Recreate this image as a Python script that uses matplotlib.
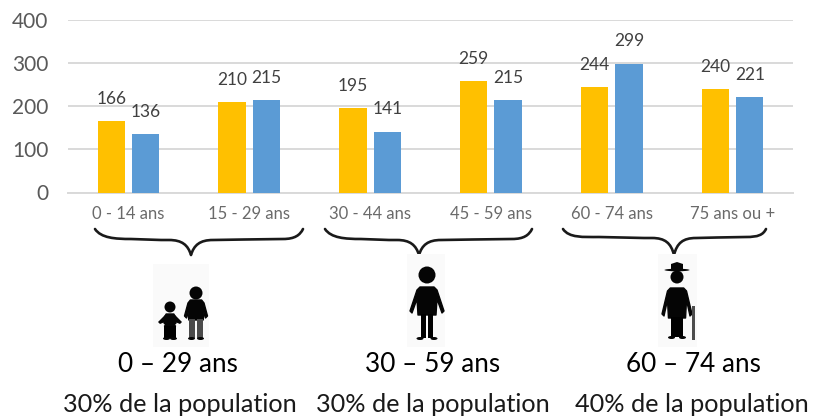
import matplotlib
matplotlib.use("Agg")
import matplotlib.pyplot as plt
from matplotlib.patches import Rectangle, Circle, Ellipse, Polygon, PathPatch
from matplotlib.path import Path

plt.rcParams["font.family"] = ["Lato", "DejaVu Sans"]

age_groups = ["0 - 14 ans", "15 - 29 ans", "30 - 44 ans", "45 - 59 ans", "60 - 74 ans", "75 ans ou +"]
series_yellow = [166, 210, 195, 259, 244, 240]
series_blue = [136, 215, 141, 215, 299, 221]
y_ticks = [0, 100, 200, 300, 400]
band_titles = ["0 – 29 ans", "30 – 59 ans", "60 – 74 ans"]
band_shares = ["30% de la population", "30% de la population", "40% de la population"]

W, H = 815, 416
fig = plt.figure(figsize=(W / 100, H / 100), dpi=100)

# Bar chart, placed in pixel terms
left, right, top, bottom = 68, 793, 20, 192.5
ax = fig.add_axes([left / W, 1 - bottom / H, (right - left) / W, (bottom - top) / H])
ax.set_xlim(-0.5, 5.5)
ax.set_ylim(0, 400)
bw = 0.226
off = 0.142
for i, (a, b) in enumerate(zip(series_yellow, series_blue)):
    ax.bar(i - off, a, bw, color="#FFC000", zorder=3)
    ax.bar(i + off, b, bw, color="#5B9BD5", zorder=3)
    for x, v in ((i - off, a), (i + off, b)):
        ax.annotate(str(v), (x, v), xytext=(0, 16), textcoords="offset points",
                    ha="center", va="center", fontsize=12.5, color="#404040", zorder=4)
ax.set_yticks(y_ticks)
ax.set_xticks(range(6))
ax.set_xticklabels(age_groups, fontsize=12, color="#6a6a6a")
ax.tick_params(axis="x", length=0, pad=10)
ax.tick_params(axis="y", length=0, pad=14, labelsize=15, labelcolor="#595959")
ax.grid(axis="y", color="#D9D9D9", lw=1.4, zorder=0)
for s in ("top", "left", "right"):
    ax.spines[s].set_visible(False)
ax.spines["bottom"].set_color("#D9D9D9")
ax.spines["bottom"].set_linewidth(1.4)

# Overlay with pixel coordinates for braces, figures and captions
ov = fig.add_axes([0, 0, 1, 1])
ov.set_xlim(0, W)
ov.set_ylim(H, 0)
ov.axis("off")


def brace(x0, x1, xm, y0=229, ymid=240, ytip=255):
    verts = [(x0, y0), (x0 + 6, y0 + 9), (x0 + 20, ymid - 1), (x0 + 36, ymid - 1),
             (xm - 30, ymid), (xm - 30, ymid), (xm - 22, ymid),
             (xm - 9, ymid), (xm - 3, ymid + 5), (xm, ytip),
             (xm + 3, ymid + 5), (xm + 9, ymid), (xm + 22, ymid),
             (xm + 30, ymid), (x1 - 36, ymid - 1), (x1 - 20, ymid - 1),
             (x1 - 8, ymid - 1), (x1 - 3, y0 + 6), (x1, y0)]
    codes = [Path.MOVETO] + [Path.CURVE4] * 18
    ov.add_patch(PathPatch(Path(verts, codes), fill=False, ec="#1a1a1a", lw=1.9,
                           capstyle="round", joinstyle="round"))


brace(95, 303, 191)
brace(325, 532, 419)
brace(563, 766, 674, ymid=238)


def person(cx, head_y, head_r, sh_y, hip_y, foot_y, torso, arm, leg, foot, leg_color="black"):
    # Silhouette made of a head, a rounded torso with arms, two legs and two feet
    color = "#050505"
    ov.add_patch(Circle((cx, head_y), head_r, color=color, lw=0))
    ov.add_patch(Polygon([(cx - torso * 0.7, sh_y), (cx + torso * 0.7, sh_y),
                          (cx + torso, sh_y + 3), (cx + arm, hip_y - 4), (cx + arm - 2, hip_y - 2),
                          (cx + torso, sh_y + 12), (cx + torso * 0.9, hip_y),
                          (cx - torso * 0.9, hip_y), (cx - torso, sh_y + 12),
                          (cx - arm + 2, hip_y - 2), (cx - arm, hip_y - 4), (cx - torso, sh_y + 3)],
                         closed=True, fc=color, ec=color, lw=1, joinstyle="round"))
    w = leg * 0.44
    for sgn in (-1, 1):
        xc = cx + sgn * leg * 0.52
        ov.add_patch(Rectangle((xc - w, hip_y - 1), w * 2, foot_y - hip_y, color=leg_color, lw=0))
        ov.add_patch(Ellipse((cx + sgn * (foot - 3.5), foot_y - 0.5), 7, 3, color=color, lw=0))


# Young pair
ov.add_patch(Rectangle((153, 264), 56, 83, color="#FAFAFA", lw=0))
person(196, 293, 6.5, 300, 320, 339, 8, 11.5, 7, 8, leg_color="#4a4a4a")
person(170, 307, 5.5, 314, 327, 339, 5.5, 6, 6, 7)
ov.add_patch(Polygon([(165, 315), (175, 315), (182, 322), (180, 324), (170, 320), (160, 324), (158, 322)],
                     closed=True, color="#050505", lw=0))

# Adult
ov.add_patch(Rectangle((407, 254), 38, 93, color="#FAFAFA", lw=0))
person(427, 275, 8.5, 287, 315, 339, 10, 17, 6.5, 10.5)

# Older person with hat and cane
ov.add_patch(Rectangle((658, 254), 39, 93, color="#FAFAFA", lw=0))
person(677, 277, 6.5, 288, 318, 338, 9.5, 15, 6, 9)
ov.add_patch(Polygon([(671, 271), (671, 264), (677, 262), (683, 264), (683, 271)],
                     closed=True, color="#050505", lw=0))
ov.add_patch(Ellipse((677, 270), 25, 2.6, color="#050505", lw=0))
ov.add_patch(Rectangle((692, 306), 2.6, 34, color="#4d4d4d", lw=0))

# Captions under each age band
for tx, title, sx, share in zip((178, 433, 693), band_titles, (180, 433, 692), band_shares):
    ov.text(tx, 364, title, ha="center", va="center", fontsize=18.8, color="black")
    ov.text(sx, 404, share, ha="center", va="center", fontsize=18.2, color="#1a1a1a")

fig.savefig("out.png", dpi=100)
